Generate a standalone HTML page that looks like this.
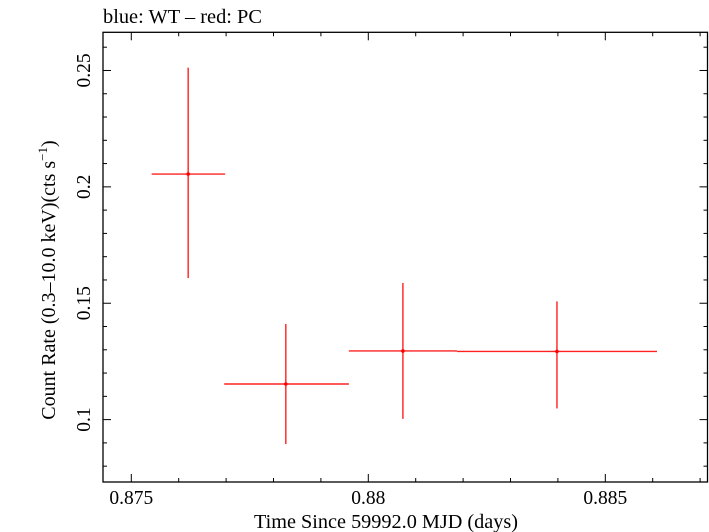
<!DOCTYPE html>
<html><head><meta charset="utf-8"><style>
html,body{margin:0;padding:0;background:#fff;}
svg{display:block;font-family:"Liberation Serif","DejaVu Serif",serif;}
</style></head><body>
<svg id="chart" width="709" height="532" viewBox="0 0 709 532" xmlns="http://www.w3.org/2000/svg">
<text x="103" y="23" font-size="19.5" fill="#000" textLength="159" lengthAdjust="spacingAndGlyphs">blue: WT – red: PC</text>
<rect x="103" y="32.3" width="604.5" height="449.7" fill="none" stroke="#000" stroke-width="1.3"/>
<g id="ticks"></g>
<g id="marks"></g>
<text x="386" y="528" font-size="20" text-anchor="middle" fill="#000" textLength="264" lengthAdjust="spacingAndGlyphs">Time Since 59992.0 MJD (days)</text>
<text transform="translate(55,280) rotate(-90)" font-size="20" text-anchor="middle" fill="#000">Count Rate (0.3–10.0 keV)(cts s<tspan font-size="13" dy="-8">−1</tspan><tspan dy="8">)</tspan></text>
</svg>
<script>
const xTicks=[0.875,0.88,0.885];
const xTickLabels=["0.875","0.88","0.885"];
const yTicks=[0.1,0.15,0.2,0.25];
const yTickLabels=["0.1","0.15","0.2","0.25"];
const times=[0.87620,0.87826,0.88073,0.88398];
const timeLo=[0.87543,0.87696,0.87959,0.88187];
const timeHi=[0.87698,0.87959,0.88187,0.88609];
const rates=[0.2055,0.1153,0.1295,0.1293];
const rateHi=[0.2512,0.1411,0.1587,0.1508];
const rateLo=[0.1608,0.0895,0.1003,0.1048];

const L=103,R=707.5,T=32.3,B=482;
const xMin=0.874403,xMax=0.887156,yMin=0.0732,yMax=0.2664;
const xs=v=>L+(v-xMin)/(xMax-xMin)*(R-L);
const ys=v=>B-(v-yMin)/(yMax-yMin)*(B-T);
const NS='http://www.w3.org/2000/svg';
const svg=document.getElementById('chart');
const tg=document.getElementById('ticks');
const mg=document.getElementById('marks');
function line(g,x1,y1,x2,y2,c,w){const l=document.createElementNS(NS,'line');l.setAttribute('x1',x1);l.setAttribute('y1',y1);l.setAttribute('x2',x2);l.setAttribute('y2',y2);l.setAttribute('stroke',c);l.setAttribute('stroke-width',w);g.appendChild(l);return l;}
for(let i=0;i<=13;i++){const v=0.874+i*0.001;if(v<xMin||v>xMax)continue;const x=xs(v);const major=Math.abs(Math.round(v*1e4)%50)<1e-6;const len=major?8:4;
const a=line(tg,x,B,x,B-len,'#000',1);
const b=line(tg,x,T,x,T+len,'#000',1);}
for(let i=0;i<=20;i++){const v=0.07+i*0.01;if(v<yMin||v>yMax)continue;const y=ys(v);const major=Math.abs(Math.round(v*1e3)%50)<1e-6;const len=major?8:4;
const a=line(tg,L,y,L+len,y,'#000',1);
const b=line(tg,R,y,R-len,y,'#000',1);}
xTicks.forEach((v,i)=>{const t=document.createElementNS(NS,'text');t.setAttribute('x',xs(v));t.setAttribute('y',504);t.setAttribute('font-size','19.5');t.setAttribute('text-anchor','middle');t.textContent=xTickLabels[i];


svg.appendChild(t);});
yTicks.forEach((v,i)=>{const t=document.createElementNS(NS,'text');t.setAttribute('transform','translate(90,'+ys(v)+') rotate(-90)');t.setAttribute('font-size','19.5');t.setAttribute('text-anchor','middle');t.textContent=yTickLabels[i];


svg.appendChild(t);});
times.forEach((v,i)=>{const g=document.createElementNS(NS,'g');


line(g,xs(timeLo[i]),ys(rates[i]),xs(timeHi[i]),ys(rates[i]),'#ff2020',1.4);
line(g,xs(v),ys(rateLo[i]),xs(v),ys(rateHi[i]),'#ff2020',1.4);
const c=document.createElementNS(NS,'circle');c.setAttribute('cx',xs(v));c.setAttribute('cy',ys(rates[i]));c.setAttribute('r',1.8);c.setAttribute('fill','#ff0000');g.appendChild(c);
mg.appendChild(g);});
</script>
</body></html>
